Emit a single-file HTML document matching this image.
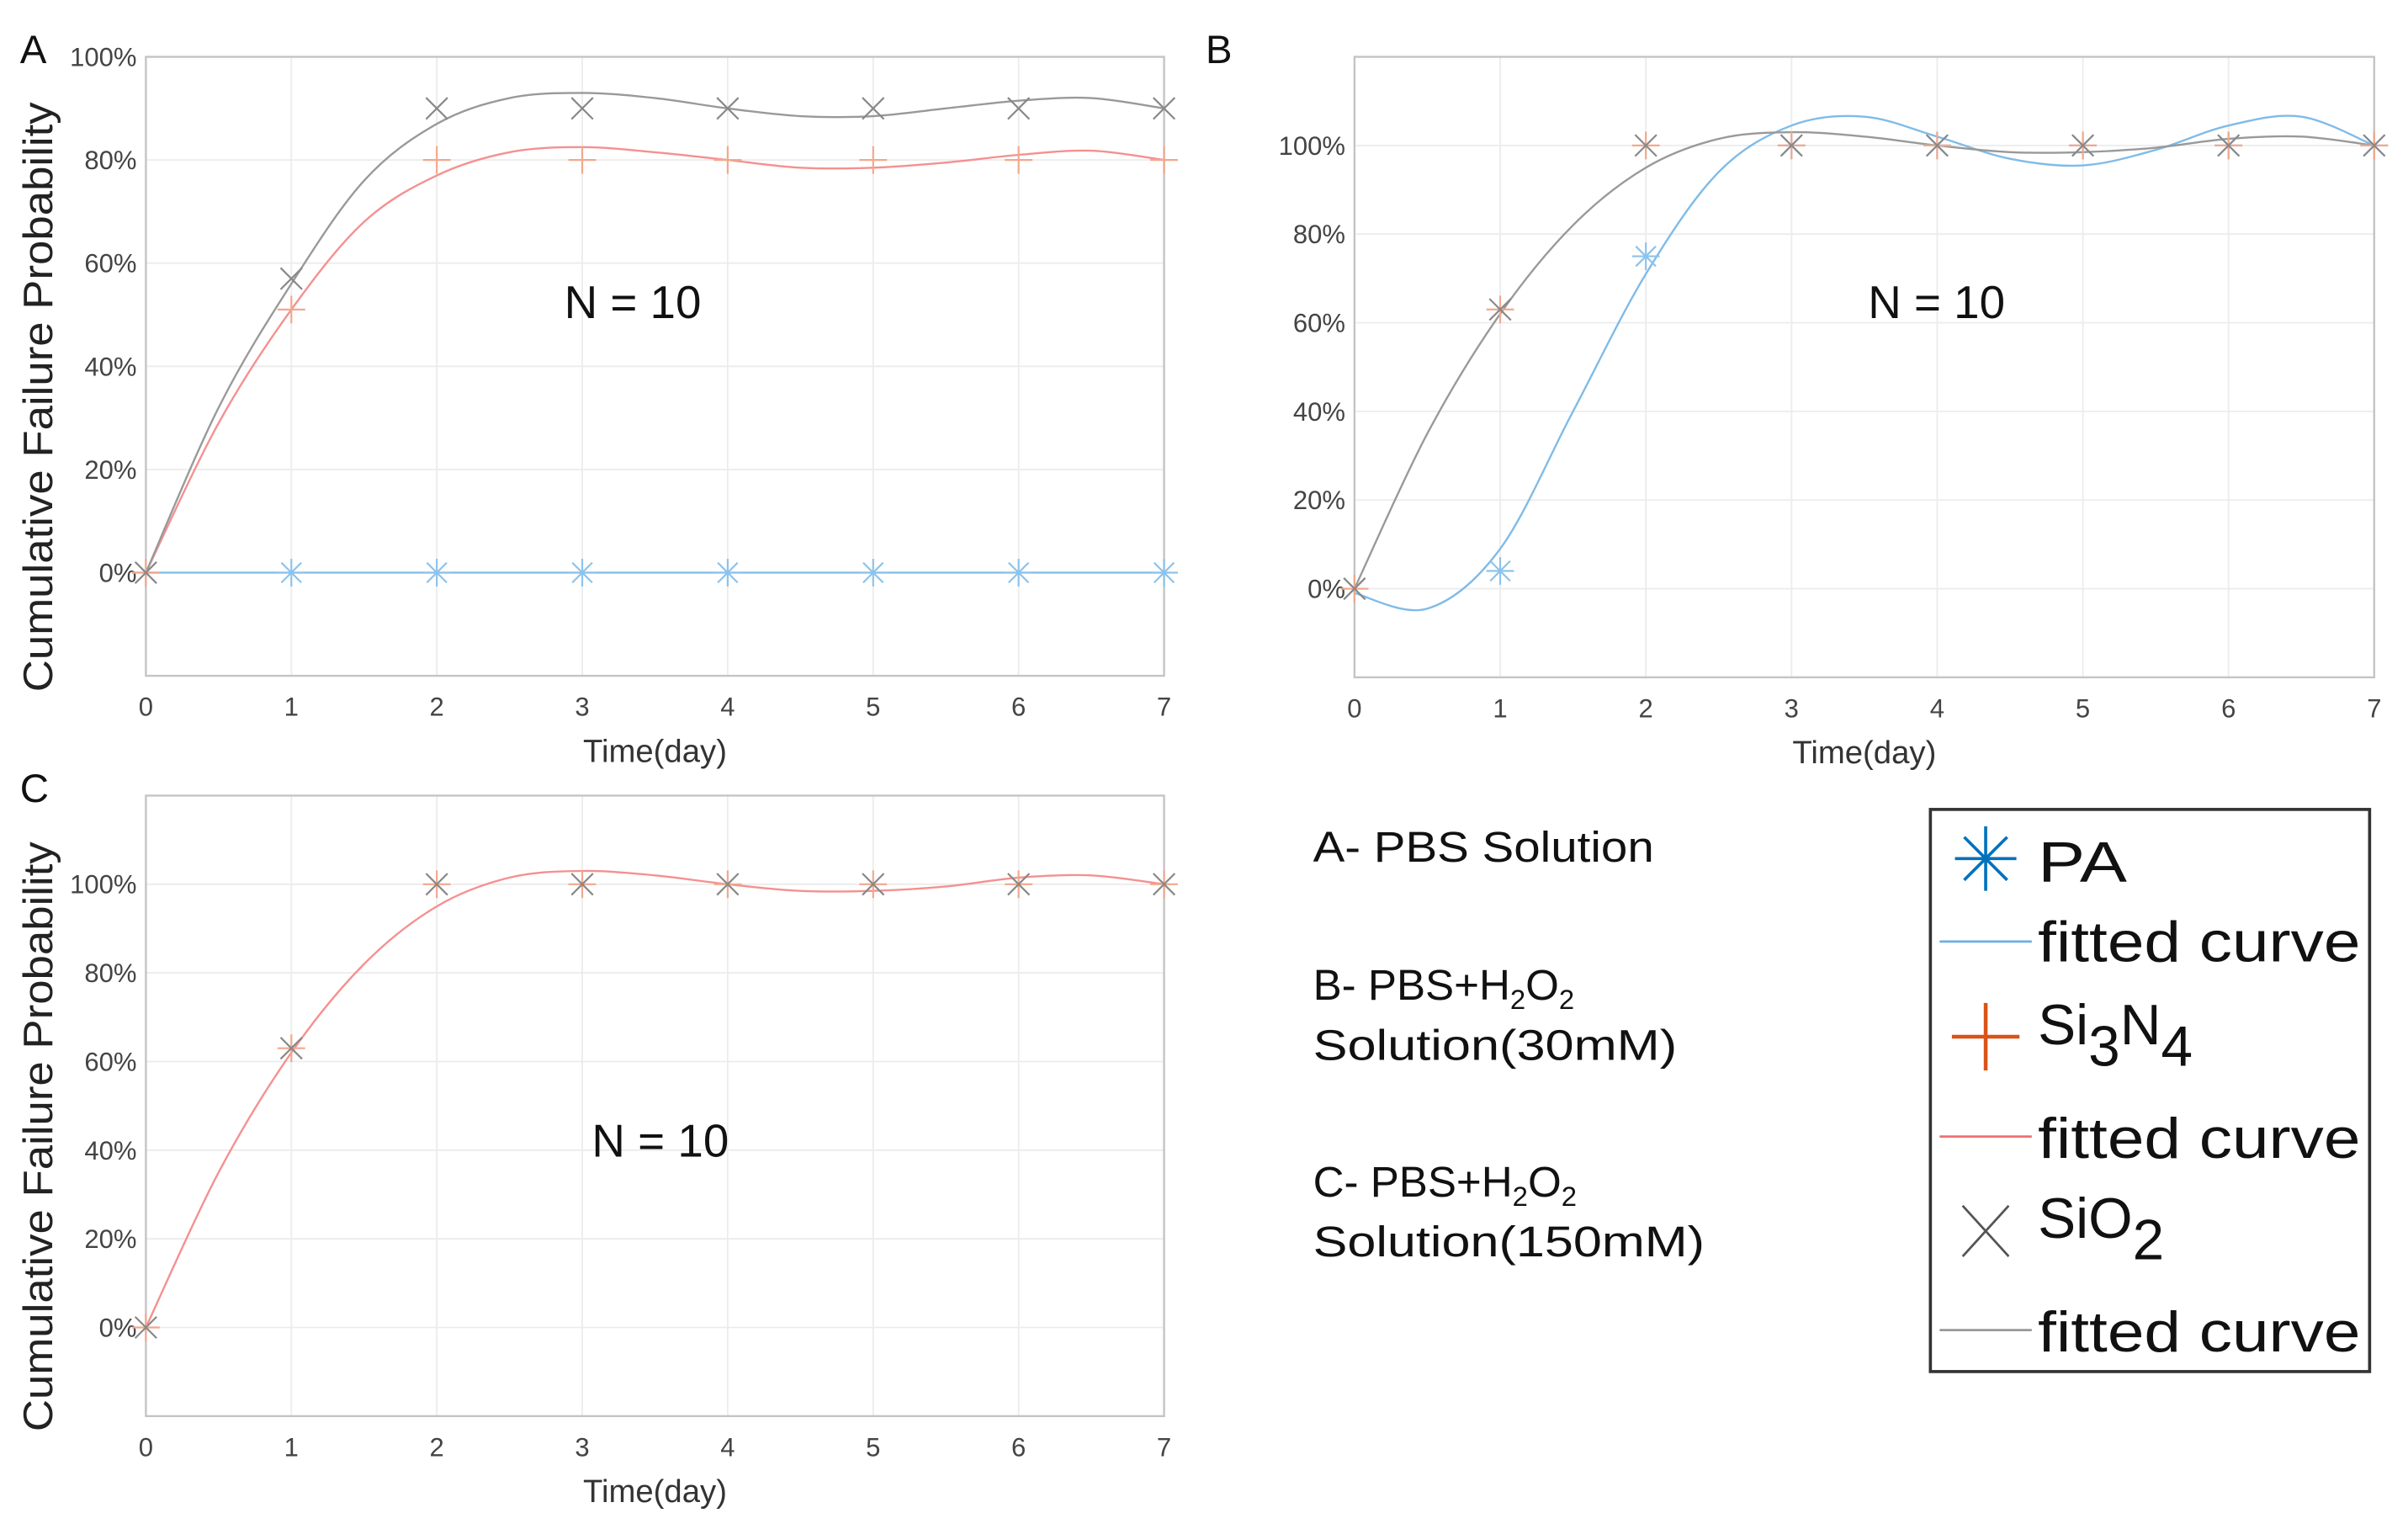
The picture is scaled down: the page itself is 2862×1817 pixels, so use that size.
<!DOCTYPE html>
<html><head><meta charset="utf-8"><style>
html,body{margin:0;padding:0;background:#fff;}
svg{display:block;}
</style></head><body>
<svg id="fig" xmlns="http://www.w3.org/2000/svg" width="2862" height="1817" viewBox="0 0 1568 995.5" preserveAspectRatio="none" font-family="'Liberation Sans', sans-serif">
<rect width="1568" height="995.5" fill="#fff"/>
<g id="plots"></g>
<g font-size="28" fill="#111" font-family="'Liberation Sans Narrow','Liberation Sans',sans-serif">
<text x="855" y="561" textLength="222" lengthAdjust="spacingAndGlyphs">A- PBS Solution</text>
<text x="855" y="651">B- PBS+H<tspan font-size="18" dy="6">2</tspan><tspan dy="-6">O</tspan><tspan font-size="18" dy="6">2</tspan></text>
<text x="855" y="690" textLength="237" lengthAdjust="spacingAndGlyphs">Solution(30mM)</text>
<text x="855" y="779">C- PBS+H<tspan font-size="18" dy="6">2</tspan><tspan dy="-6">O</tspan><tspan font-size="18" dy="6">2</tspan></text>
<text x="855" y="818" textLength="255" lengthAdjust="spacingAndGlyphs">Solution(150mM)</text>
</g>
<g>
<rect x="1257" y="527" width="286" height="366" fill="#fff" stroke="#333" stroke-width="2"/>
<g stroke="#0072BD" stroke-width="2">
<line x1="1293" y1="538" x2="1293" y2="580"/><line x1="1273" y1="559" x2="1313" y2="559"/><line x1="1279" y1="545" x2="1307" y2="573"/><line x1="1307" y1="545" x2="1279" y2="573"/></g>
<line x1="1263" y1="613" x2="1323" y2="613" stroke="#6aaee6" stroke-width="1.5"/>
<g stroke="#D95319" stroke-width="2.5"><line x1="1293" y1="653" x2="1293" y2="697"/><line x1="1271" y1="675" x2="1315" y2="675"/></g>
<line x1="1263" y1="740" x2="1323" y2="740" stroke="#f07070" stroke-width="1.5"/>
<g stroke="#555" stroke-width="1.5"><line x1="1278" y1="785" x2="1308" y2="818"/><line x1="1308" y1="785" x2="1278" y2="818"/></g>
<line x1="1263" y1="866" x2="1323" y2="866" stroke="#999" stroke-width="1.5"/>
<g font-size="37" fill="#111">
<text x="1327" y="574" textLength="58" lengthAdjust="spacingAndGlyphs">PA</text>
<text x="1327" y="626" textLength="210" lengthAdjust="spacingAndGlyphs">fitted curve</text>
<text x="1327" y="680">Si<tspan dy="14">3</tspan><tspan dy="-14">N</tspan><tspan dy="14">4</tspan></text>
<text x="1327" y="754" textLength="210" lengthAdjust="spacingAndGlyphs">fitted curve</text>
<text x="1327" y="806">SiO<tspan dy="14">2</tspan></text>
<text x="1327" y="880" textLength="210" lengthAdjust="spacingAndGlyphs">fitted curve</text>
</g>
</g>
</svg>
<script>
const days = [0,1,2,3,4,5,6,7];
const fitDays = [0,0.5,1,1.5,2,2.5,3,3.5,4,4.5,5,5.5,6,6.5,7];
const xTickLabels = ['0','1','2','3','4','5','6','7'];
const yTicksA = [0,20,40,60,80,100];
const yTicksBC = [0,20,40,60,80,100];
// Panel A
const aPA = [0,0,0,0,0,0,0,0];
const aSi3N4 = [0,51,80,80,80,80,80,80];
const aSiO2 = [0,57,90,90,90,90,90,90];
const aFitPA = [0,0,0,0,0,0,0,0,0,0,0,0,0,0,0];
const aFitSi3N4 = [0,29,51,68,77,81.5,82.5,81.5,80,78.5,78.5,79.5,81,81.8,80];
const aFitSiO2 = [0,32,56,76,87,92,93,92,90,88.5,88.5,90,91.5,92,90];
// Panel B
const bPA = [0,4,75,100,100,100,100,100];
const bSi3N4 = [0,63,100,100,100,100,100,100];
const bSiO2 = [0,63,100,100,100,100,100,100];
const bFitPA = [-1,-4.5,9,40,71,94,104.5,106.5,102,97,95.5,99,104.5,106.5,100];
const bFitSiO2 = [0,35,62,82,95,101.5,103,102,100,98.5,98.5,99.5,101.5,102,100];
// Panel C
const cSi3N4 = [0,63,100,100,100,100,100,100];
const cSiO2 = [0,63,100,100,100,100,100,100];
const cFitSi3N4 = [0,35,62,82,95,101.5,103,102,100,98.5,98.5,99.5,101.5,102,100];

const NS='http://www.w3.org/2000/svg';
const root=document.getElementById('plots');
function mk(tag,attrs,parent){const e=document.createElementNS(NS,tag);for(const k in attrs)e.setAttribute(k,attrs[k]);(parent||root).appendChild(e);return e;}

function panel(cfg){
  const g=mk('g',{});
  
  
  const X=v=>cfg.L+(v-0)/(7-0)*(cfg.R-cfg.L);
  const Y=v=>cfg.B-(v-cfg.ymin)/(cfg.ymax-cfg.ymin)*(cfg.B-cfg.T);
  days.forEach(d=>{const l=mk('line',{x1:X(d),x2:X(d),y1:cfg.T,y2:cfg.B,stroke:'#ececec','stroke-width':1},g);
    
    });
  cfg.yticks.forEach(v=>{const l=mk('line',{x1:cfg.L,x2:cfg.R,y1:Y(v),y2:Y(v),stroke:'#ececec','stroke-width':1},g);
    
    });
  const box=mk('rect',{x:cfg.L,y:cfg.T,width:cfg.R-cfg.L,height:cfg.B-cfg.T,fill:'none',stroke:'#c4c4c4','stroke-width':1.3},g);
  
  
  days.forEach((d,i)=>{const t=mk('text',{x:X(d),y:cfg.B+26,'text-anchor':'middle','font-size':17,fill:'#444'},g);t.textContent=xTickLabels[i];
    
    });
  cfg.yticks.forEach(v=>{const t=mk('text',{x:cfg.L-6,y:Y(v)+6,'text-anchor':'end','font-size':17,fill:'#444'},g);t.textContent=v+'%';
    
    });
  const xt=mk('text',{x:(cfg.L+cfg.R)/2,y:cfg.B+56,'text-anchor':'middle','font-size':21,fill:'#333'},g);xt.textContent='Time(day)';
  
  
  if(cfg.ylabel){const cy=(cfg.T+cfg.B)/2+20;const yt=mk('text',{x:0,y:0,transform:`translate(34,${cy}) rotate(-90)`,'text-anchor':'middle','font-size':27,fill:'#222',textLength:384,lengthAdjust:'spacingAndGlyphs'},g);yt.textContent='Cumulative Failure Probability';
    
    }
  const lt=mk('text',{x:cfg.letterX,y:cfg.T+4,'font-size':26,fill:'#111'},g);lt.textContent=cfg.letter;
  
  
  const nt=mk('text',{x:cfg.nX,y:cfg.nY,'text-anchor':'middle','font-size':30,fill:'#111'},g);nt.textContent='N = 10';
  
  
  cfg.fits.forEach(f=>{
    const pts=fitDays.map((d,i)=>[X(d),Y(f.vals[i])]);
    let dstr=`M${pts[0][0]},${pts[0][1]}`;
    for(let i=0;i<pts.length-1;i++){const p0=pts[Math.max(0,i-1)],p1=pts[i],p2=pts[i+1],p3=pts[Math.min(pts.length-1,i+2)];
      dstr+=` C${p1[0]+(p2[0]-p0[0])/6},${p1[1]+(p2[1]-p0[1])/6} ${p2[0]-(p3[0]-p1[0])/6},${p2[1]-(p3[1]-p1[1])/6} ${p2[0]},${p2[1]}`;}
    const p=mk('path',{d:dstr,fill:'none',stroke:f.color,'stroke-width':1.3},g);
    
    
  });
  cfg.series.forEach(s=>{
    days.forEach((d,i)=>{const cx=X(d),cy=Y(s.vals[i]);const m=mk('g',{stroke:s.color,'stroke-width':1.2,fill:'none'},g);
      
      
      const r=9;
      if(s.type==='star'){mk('line',{x1:cx,y1:cy-r,x2:cx,y2:cy+r},m);mk('line',{x1:cx-r,y1:cy,x2:cx+r,y2:cy},m);mk('line',{x1:cx-6.5,y1:cy-6.5,x2:cx+6.5,y2:cy+6.5},m);mk('line',{x1:cx+6.5,y1:cy-6.5,x2:cx-6.5,y2:cy+6.5},m);}
      else if(s.type==='plus'){mk('line',{x1:cx,y1:cy-r,x2:cx,y2:cy+r},m);mk('line',{x1:cx-r,y1:cy,x2:cx+r,y2:cy},m);}
      else {mk('line',{x1:cx-7,y1:cy-7,x2:cx+7,y2:cy+7},m);mk('line',{x1:cx+7,y1:cy-7,x2:cx-7,y2:cy+7},m);}
    });
  });
}
panel({name:'panel-a',L:95,R:758,T:37,B:440,ymin:-20,ymax:100,yticks:yTicksA,ylabel:true,letter:'A',letterX:13,nX:412,nY:207,
  fits:[{name:'fit-pa',vals:aFitPA,color:'#7fbbe8'},{name:'fit-si3n4',vals:aFitSi3N4,color:'#f59090'},{name:'fit-sio2',vals:aFitSiO2,color:'#999'}],
  series:[{name:'pa',vals:aPA,type:'star',color:'#8cc3ec'},{name:'si3n4',vals:aSi3N4,type:'plus',color:'#f2a88c'},{name:'sio2',vals:aSiO2,type:'x',color:'#888'}]});
panel({name:'panel-b',L:882,R:1546,T:37,B:441,ymin:-20,ymax:120,yticks:yTicksBC,ylabel:false,letter:'B',letterX:785,nX:1261,nY:207,
  fits:[{name:'fit-pa',vals:bFitPA,color:'#7fbbe8'},{name:'fit-sio2',vals:bFitSiO2,color:'#999'}],
  series:[{name:'pa',vals:bPA,type:'star',color:'#8cc3ec'},{name:'si3n4',vals:bSi3N4,type:'plus',color:'#f2a88c'},{name:'sio2',vals:bSiO2,type:'x',color:'#888'}]});
panel({name:'panel-c',L:95,R:758,T:518,B:922,ymin:-20,ymax:120,yticks:yTicksBC,ylabel:true,letter:'C',letterX:13,nX:430,nY:753,
  fits:[{name:'fit-si3n4',vals:cFitSi3N4,color:'#f59090'}],
  series:[{name:'si3n4',vals:cSi3N4,type:'plus',color:'#f2a88c'},{name:'sio2',vals:cSiO2,type:'x',color:'#888'}]});
</script>
</body></html>
